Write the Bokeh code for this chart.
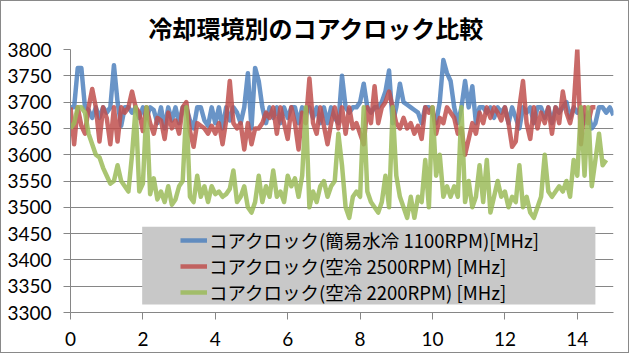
from bokeh.plotting import figure
from bokeh.models import Legend, LegendItem, BoxAnnotation, FixedTicker, Range1d
from bokeh.embed import file_html
from bokeh.resources import INLINE

TITLE = "冷却環境別のコアクロック比較"
SERIES_NAMES = [
    "コアクロック(簡易水冷 1100RPM)[MHz]",
    "コアクロック(空冷 2500RPM) [MHz]",
    "コアクロック(空冷 2200RPM) [MHz]",
]
X_TICKS = [0, 2, 4, 6, 8, 10, 12, 14]
Y_TICKS = [3300, 3350, 3400, 3450, 3500, 3550, 3600, 3650, 3700, 3750, 3800]
STEP = 0.1

water_1100 = [
    3690, 3690, 3765, 3765, 3690, 3685, 3670, 3690, 3670, 3690,
    3680, 3690, 3770, 3700, 3655, 3690, 3690, 3680, 3690, 3670,
    3690, 3670, 3690, 3685, 3660, 3690, 3650, 3690, 3665, 3690,
    3660, 3690, 3690, 3665, 3650, 3690, 3690, 3665, 3655, 3690,
    3660, 3690, 3650, 3690, 3665, 3690, 3680, 3660, 3690, 3755,
    3650, 3765, 3740, 3690, 3660, 3690, 3670, 3690, 3660, 3690,
    3670, 3690, 3690, 3660, 3690, 3680, 3690, 3670, 3690, 3660,
    3690, 3660, 3690, 3670, 3660, 3750, 3690, 3680, 3690, 3690,
    3700, 3735, 3690, 3680, 3690, 3690, 3700, 3720, 3760, 3660,
    3690, 3735, 3700, 3695, 3690, 3685, 3680, 3660, 3690, 3690,
    3680, 3660, 3700, 3780, 3755, 3740, 3690, 3660, 3690, 3740,
    3690, 3730, 3660, 3690, 3690, 3680, 3690, 3670, 3690, 3680,
    3690, 3660, 3690, 3670, 3650, 3690, 3680, 3690, 3660, 3690,
    3690, 3670, 3690, 3660, 3690, 3680, 3690, 3700, 3670, 3690,
    3680, 3690, 3660, 3680, 3650, 3660, 3690, 3690, 3680, 3690,
    3675,
]

air_2500 = [
    3690, 3620, 3690, 3655, 3640, 3690, 3725, 3690, 3625, 3690,
    3670, 3620, 3690, 3625, 3690, 3680, 3690, 3720, 3690, 3680,
    3645, 3690, 3660, 3640, 3670, 3665, 3630, 3680, 3650, 3665,
    3640, 3690, 3700, 3645, 3615, 3660, 3655, 3650, 3640, 3655,
    3640, 3660, 3620, 3665, 3740, 3660, 3650, 3660, 3610, 3660,
    3620, 3650, 3650, 3660, 3680, 3670, 3690, 3640, 3690, 3660,
    3630, 3690, 3660, 3610, 3680, 3660, 3745, 3660, 3640, 3690,
    3655, 3620, 3660, 3690, 3650, 3690, 3640, 3690, 3650, 3660,
    3640, 3620, 3690, 3660, 3730, 3660, 3690, 3700, 3720, 3690,
    3660, 3650, 3670, 3650, 3660, 3640, 3655, 3630, 3690, 3680,
    3690, 3640, 3670, 3660, 3690, 3680, 3670, 3640, 3650, 3600,
    3630, 3660, 3640, 3680, 3660, 3690, 3670, 3690, 3680, 3665,
    3690, 3660, 3615, 3625, 3690, 3740, 3660, 3630, 3690, 3650,
    3680, 3660, 3690, 3640, 3690, 3660, 3720, 3680, 3660, 3690,
    3800, 3620, 3690, 3660, 3690, 3690,
]

air_2200 = [
    3650, 3660, 3690, 3690, 3680, 3640, 3620, 3600, 3595, 3575,
    3560, 3545, 3550, 3580, 3550, 3540, 3530, 3600, 3690, 3530,
    3545, 3690, 3525, 3555, 3515, 3530, 3510, 3540, 3505, 3515,
    3540, 3550, 3690, 3520, 3510, 3560, 3520, 3540, 3510, 3540,
    3525, 3530, 3520, 3525, 3535, 3570, 3510, 3520, 3540, 3500,
    3490, 3510, 3560, 3510, 3540, 3520, 3570, 3520, 3530, 3510,
    3560, 3540, 3555, 3520, 3560, 3690, 3500, 3530, 3510, 3540,
    3550, 3520, 3540, 3550, 3640, 3580, 3500, 3480, 3520, 3530,
    3520, 3690, 3530, 3510, 3500, 3490, 3510, 3560, 3500, 3690,
    3560, 3520, 3500, 3480, 3520, 3480, 3520, 3510, 3590, 3500,
    3690, 3560, 3600, 3520, 3540, 3520, 3540, 3520, 3690, 3510,
    3550, 3500, 3520, 3580, 3510, 3590, 3490, 3520, 3550, 3520,
    3530, 3500, 3520, 3510, 3580, 3500, 3520, 3490, 3480, 3500,
    3520, 3600, 3530, 3520, 3530, 3540, 3530, 3550, 3520, 3590,
    3560, 3690, 3560, 3690, 3540, 3590, 3640, 3580, 3590,
]

COLORS = ["#4F81BD", "#C0504D", "#9BBB59"]
ALL_SERIES = [water_1100, air_2500, air_2200]


def times(values):
    return [round(i * STEP, 2) for i in range(len(values))]


p = figure(
    width=629, height=353,
    output_backend="svg", toolbar_location=None,
    x_range=Range1d(0, 15), y_range=Range1d(3300, 3800),
    min_border_left=69, min_border_right=17,
    min_border_top=48, min_border_bottom=42,
    background_fill_color="white", border_fill_color="white",
)
p.styles = {"border": "1px solid #898989"}
p.outline_line_color = None

p.title.text = TITLE
p.title.text_font = "Noto Sans CJK JP"
p.title.text_font_size = "24px"
p.title.text_font_style = "bold"
p.title.align = "left"
p.title.offset = 78
p.title.standoff = 10
p.title.text_color = "black"

p.xgrid.visible = False
p.ygrid.grid_line_color = "#868686"
p.ygrid.grid_line_width = 1

p.xaxis.ticker = FixedTicker(ticks=X_TICKS)
p.yaxis.ticker = FixedTicker(ticks=Y_TICKS)
for ax in (p.xaxis, p.yaxis):
    ax.axis_line_color = "#868686"
    ax.major_tick_line_color = "#868686"
    ax.major_tick_out = 7
    ax.major_tick_in = 0
    ax.minor_tick_out = 0
    ax.minor_tick_in = 0
    ax.major_label_text_font = "Lato"
    ax.major_label_text_font_size = "19px"
    ax.major_label_text_color = "black"
    ax.major_label_standoff = 12

renderers = []
for vals, col in zip(ALL_SERIES, COLORS):
    r = p.line(times(vals), vals, line_color=col, line_width=4.5, line_alpha=0.85,
               line_join="round")
    renderers.append(r)

box = BoxAnnotation(left=1.98, right=14.5, bottom=3315, top=3463,
                    fill_color="#C8C8C8", fill_alpha=1.0, line_color=None)
p.add_layout(box)

legend = Legend(
    items=[LegendItem(label=n, renderers=[r]) for n, r in zip(SERIES_NAMES, renderers)],
    location=(110, 7), orientation="vertical",
    padding=0, margin=0, spacing=0,
    glyph_width=27, glyph_height=26, label_height=26, label_standoff=2,
    label_text_font="Noto Sans CJK JP", label_text_font_size="18.5px",
    label_text_color="black",
    background_fill_alpha=0, border_line_color=None,
)
p.add_layout(legend, "center")

open("out.html", "w").write(file_html(p, INLINE))
